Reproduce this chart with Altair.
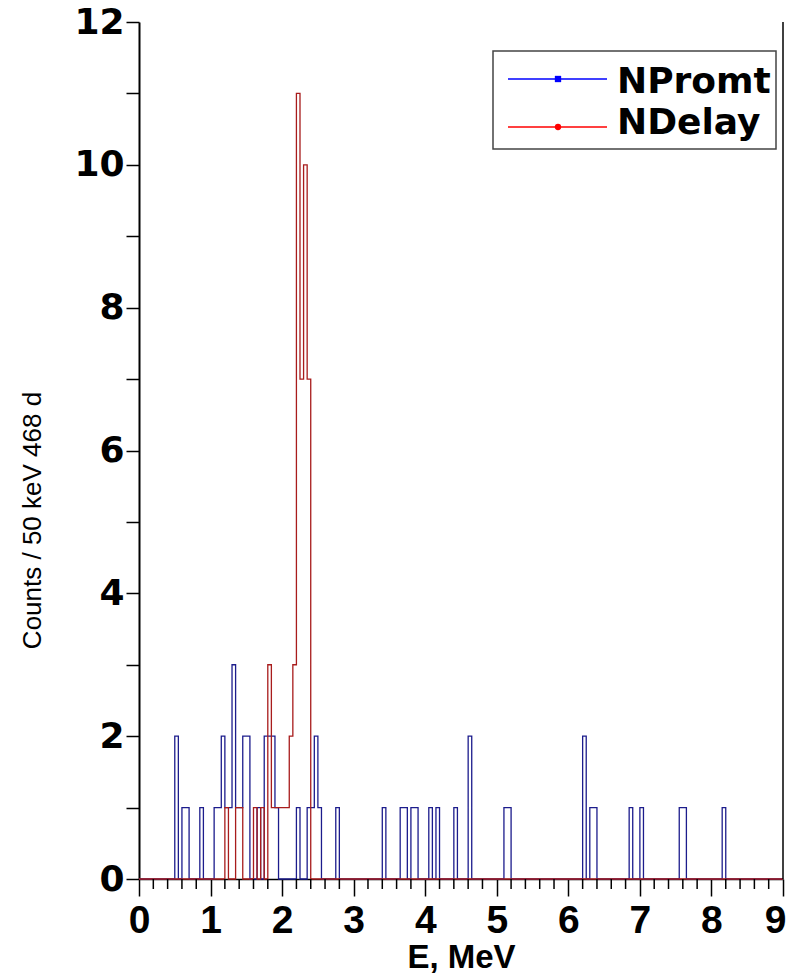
import altair as alt
import pandas as pd

# ---------------- data ----------------
BIN_WIDTH = 0.05          # MeV  (50 keV bins)
X_MAX = 9.0

SERIES_NAMES = ["NPromt", "NDelay"]
LINE_COLORS = ["#1c1c8c", "#a81c1c"]
LEGEND_COLORS = ["#0000ff", "#ff0000"]
LEGEND_SHAPES = ["square", "circle"]

# NPromt : left edge of each non-empty 50 keV bin (MeV) and its count
PROMPT_EDGES = [0.50, 0.60, 0.65, 0.85,
                1.05, 1.10, 1.15, 1.20, 1.25, 1.30, 1.35, 1.40, 1.45, 1.50,
                1.65, 1.75, 1.80, 1.85, 1.90,
                2.20, 2.35, 2.40, 2.45, 2.50, 2.75,
                3.40, 3.65, 3.70, 3.80, 3.85,
                4.05, 4.15, 4.40, 4.60,
                5.10, 5.15,
                6.20, 6.30, 6.35, 6.85,
                7.00, 7.55, 7.60,
                8.15]
PROMPT_COUNTS = [2, 1, 1, 1,
                 1, 1, 2, 1, 1, 3, 1, 1, 2, 2,
                 1, 2, 2, 2, 1,
                 1, 1, 1, 2, 1, 1,
                 1, 1, 1, 1, 1,
                 1, 1, 1, 2,
                 1, 1,
                 2, 1, 1, 1,
                 1, 1, 1,
                 1]

# NDelay
DELAY_EDGES = [1.20, 1.35, 1.40, 1.60, 1.70, 1.80,
               1.85, 1.90, 1.95, 2.00, 2.05,
               2.10, 2.15, 2.20, 2.25, 2.30, 2.35]
DELAY_COUNTS = [1, 1, 1, 1, 1, 3,
                1, 1, 1, 1, 1,
                2, 3, 11, 7, 10, 7]

X_MAJOR_TICKS = list(range(10))
X_MINOR_TICKS = [round(i * 0.2, 1) for i in range(46) if i % 5 != 0]
Y_TICKS = list(range(13))


def hist_table(edges, counts, name):
    lookup = {round(e / BIN_WIDTH): c for e, c in zip(edges, counts)}
    nbins = round(X_MAX / BIN_WIDTH)
    rows = [{"E": round(i * BIN_WIDTH, 4), "N": lookup.get(i, 0), "series": name}
            for i in range(nbins)]
    rows.append({"E": X_MAX, "N": 0, "series": name})
    return pd.DataFrame(rows)


prompt_df = hist_table(PROMPT_EDGES, PROMPT_COUNTS, SERIES_NAMES[0])
delay_df = hist_table(DELAY_EDGES, DELAY_COUNTS, SERIES_NAMES[1])

# ---------------- layout (pixels) ----------------
PLOT_W, PLOT_H = 644, 857

x_scale = alt.Scale(domain=[0, X_MAX], nice=False, zero=False)
y_scale = alt.Scale(domain=[0, 12], nice=False, zero=True)

x_axis = alt.Axis(
    values=X_MAJOR_TICKS,
    title="E, MeV",
    format="d",
    tickSize=17, tickWidth=1.5, tickColor="black",
    domainColor="black", domainWidth=1.5,
    labelFont="Liberation Sans", labelFontSize=39, labelFontWeight="bold",
    labelColor="black", labelPadding=5,
    labelAlign={"condition": {"test": "datum.value == 9", "value": "right"},
                "value": "center"},
    labelOffset={"condition": {"test": "datum.value == 9", "value": 3},
                 "value": 0},
    labelFlush=False, labelOverlap=False, labelBound=False,
    titleFont="Liberation Sans", titleFontSize=33, titleFontWeight="bold",
    titleColor="black", titleY=88, titleBaseline="alphabetic",
    grid=False,
)

y_axis = alt.Axis(
    values=Y_TICKS,
    title="Counts / 50 keV 468 d",
    labelExpr="datum.value % 2 == 0 ? format(datum.value, 'd') : ''",
    tickSize=13, tickWidth=1.5, tickColor="black",
    domainColor="black", domainWidth=2,
    labelFont="DejaVu Sans", labelFontSize=36, labelFontWeight="bold",
    labelColor="black", labelPadding=2,
    labelFlush=False, labelOverlap=False, labelBound=False,
    titleFont="Liberation Sans", titleFontSize=26, titleFontWeight="normal",
    titleColor="black", titleAngle=270, titleX=-107, titleY=498,
    titleBaseline="middle", titleAlign="center",
    grid=False,
)

blue = alt.Chart(prompt_df).mark_line(
    interpolate="step-after", color=LINE_COLORS[0], strokeWidth=1.3
).encode(
    x=alt.X("E:Q", scale=x_scale, axis=x_axis),
    y=alt.Y("N:Q", scale=y_scale, axis=y_axis),
)

red = alt.Chart(delay_df).mark_line(
    interpolate="step-after", color=LINE_COLORS[1], strokeWidth=1.3
).encode(
    x=alt.X("E:Q", scale=x_scale),
    y=alt.Y("N:Q", scale=y_scale),
)

# minor ticks of the x axis (every 0.2 MeV)
minor_df = pd.DataFrame({"E": X_MINOR_TICKS})
minor_ticks = alt.Chart(minor_df).mark_rule(color="black", strokeWidth=1.5).encode(
    x=alt.X("E:Q", scale=x_scale),
    y=alt.value(PLOT_H),
    y2=alt.value(PLOT_H + 10),
)

# right frame line
frame_df = pd.DataFrame({"E": [X_MAX], "N": [0], "N2": [12]})
right_frame = alt.Chart(frame_df).mark_rule(color="black", strokeWidth=1.5).encode(
    x=alt.X("E:Q", scale=x_scale),
    y=alt.Y("N:Q", scale=y_scale),
    y2="N2:Q",
)

# ---------------- legend (drawn by hand) ----------------
one = pd.DataFrame({"k": [0]})
legend_box = alt.Chart(one).mark_rect(
    fill="white", stroke="#444444", strokeWidth=1.5
).encode(
    x=alt.value(354), x2=alt.value(637), y=alt.value(29), y2=alt.value(127)
)

legend_rows = pd.DataFrame({
    "name": SERIES_NAMES,
    "color": LEGEND_COLORS,
    "shape": LEGEND_SHAPES,
    "ly": [57, 105],
    "ty": [71, 112],
})

legend_layers = []
for i, row in legend_rows.iterrows():
    d = legend_rows.iloc[[i]]
    legend_layers.append(
        alt.Chart(d).mark_rule(color=row["color"], strokeWidth=1.3).encode(
            x=alt.value(369), x2=alt.value(468), y=alt.value(row["ly"])
        )
    )
    legend_layers.append(
        alt.Chart(d).mark_point(
            color=row["color"], filled=True, opacity=1, shape=row["shape"], size=40
        ).encode(x=alt.value(419), y=alt.value(row["ly"]))
    )
    legend_layers.append(
        alt.Chart(d).mark_text(
            align="left", baseline="alphabetic", font="DejaVu Sans",
            fontSize=36, fontWeight="bold", color="black"
        ).encode(x=alt.value(478), y=alt.value(row["ty"]), text="name:N")
    )

chart = alt.layer(
    blue, red, minor_ticks, right_frame, legend_box, *legend_layers
).properties(
    width=PLOT_W,
    height=PLOT_H,
    autosize=alt.AutoSizeParams(type="none"),
    padding={"left": 131, "top": 14, "right": 3, "bottom": 95},
    background="white",
).configure_view(stroke=None)

chart.save("out.html", embed_options={"renderer": "svg", "actions": False})
